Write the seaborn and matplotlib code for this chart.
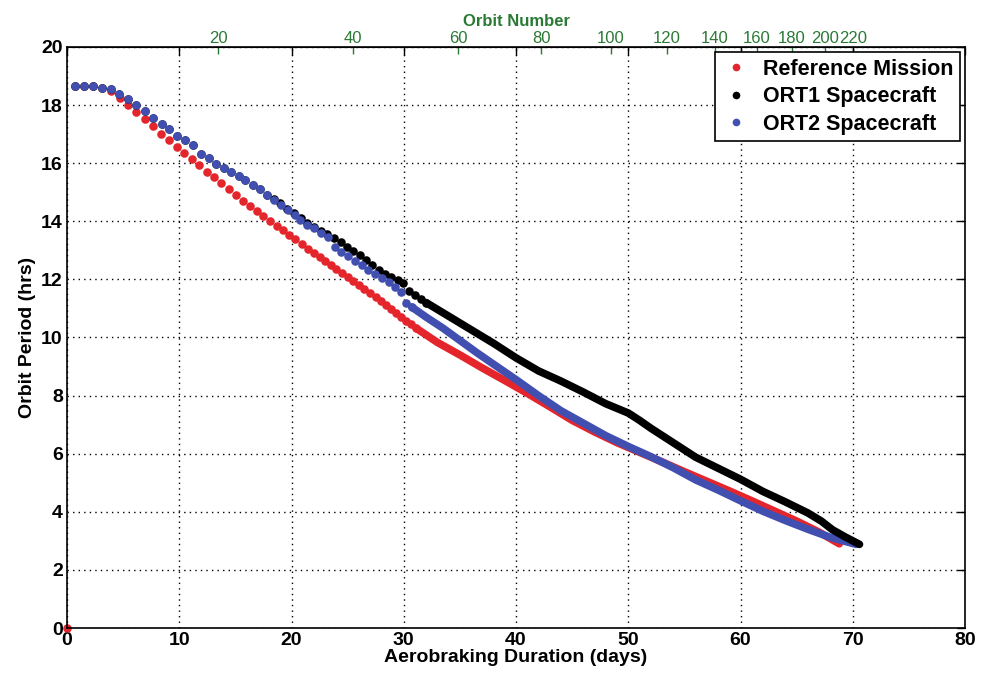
import pandas as pd
import numpy as np
import matplotlib.pyplot as plt
import seaborn as sns
from matplotlib.lines import Line2D

sns.set_style('white')
plt.rcParams['font.family'] = ['Liberation Sans', 'DejaVu Sans']
plt.rcParams['text.color'] = 'black'
plt.rcParams['axes.labelcolor'] = 'black'
plt.rcParams['xtick.color'] = 'black'
plt.rcParams['ytick.color'] = 'black'

# Reference Mission: single orbits (dots) and the dense part (orbits merge into a band)
ref_dot_day = [0.0, 0.71, 1.54, 2.35, 3.12, 3.89, 4.72, 5.43, 6.18, 6.92, 7.66, 8.37, 9.05, 9.77,
               10.45, 11.13, 11.79, 12.47, 13.12, 13.75, 14.40, 15.05, 15.68, 16.30, 16.90, 17.49,
               18.08, 18.67, 19.21, 19.80, 20.33, 20.93, 21.46, 22.0, 22.5, 23.0, 23.5, 24.0, 24.5,
               25.0, 25.5, 26.0, 26.5, 27.0, 27.5, 27.95, 28.4, 28.85, 29.3, 29.75, 30.2, 30.65, 31.1]
ref_dot_hr = [0.0, 18.66, 18.66, 18.66, 18.59, 18.50, 18.26, 18.01, 17.75, 17.51, 17.29, 17.02, 16.79,
              16.56, 16.35, 16.13, 15.93, 15.69, 15.51, 15.31, 15.12, 14.90, 14.71, 14.52, 14.35, 14.18,
              14.01, 13.84, 13.69, 13.53, 13.38, 13.22, 13.05, 12.90, 12.76, 12.62, 12.49, 12.35, 12.21,
              12.08, 11.94, 11.81, 11.66, 11.52, 11.38, 11.24, 11.11, 10.98, 10.85, 10.71, 10.58, 10.45,
              10.32]
ref_band_day = [31.1, 33.0, 35.0, 37.0, 39.0, 41.0, 43.0, 45.0, 47.0, 49.0, 51.0, 53.0, 55.0, 57.0,
                59.0, 61.0, 63.0, 65.0, 67.0, 68.8]
ref_band_hr = [10.32, 9.83, 9.40, 8.95, 8.52, 8.08, 7.62, 7.15, 6.75, 6.38, 6.05, 5.72, 5.38, 5.05,
               4.72, 4.38, 4.03, 3.68, 3.30, 2.90]

# ORT1 Spacecraft
ort1_dot_day = [0.71, 1.54, 2.35, 3.12, 3.89, 4.66, 5.43, 6.18, 6.95, 7.69, 8.43, 9.11, 9.83, 10.54,
                11.22, 11.93, 12.62, 13.27, 13.95, 14.63, 15.3, 15.9, 16.55, 17.19, 17.8, 18.42, 19.0,
                19.63, 20.22, 20.81, 21.4, 21.99, 22.59, 23.18, 23.78, 24.38, 24.95, 25.5, 26.1, 26.65,
                27.2, 27.8, 28.35, 28.9, 29.45, 29.95, 30.45, 31.0, 31.5, 32.0]
ort1_dot_hr = [18.66, 18.66, 18.66, 18.59, 18.55, 18.37, 18.20, 18.01, 17.80, 17.55, 17.35, 17.17,
               16.95, 16.80, 16.63, 16.31, 16.19, 15.98, 15.85, 15.71, 15.57, 15.42, 15.25, 15.10,
               14.92, 14.76, 14.62, 14.44, 14.27, 14.10, 13.95, 13.82, 13.68, 13.55, 13.42, 13.28,
               13.13, 12.98, 12.84, 12.68, 12.50, 12.32, 12.17, 12.07, 11.98, 11.88, 11.60, 11.45,
               11.32, 11.20]
ort1_band_day = [32.0, 33.5, 35.0, 36.5, 38.0, 40.0, 42.0, 44.0, 46.0, 48.0, 50.0, 51.0, 52.0, 54.0,
                 56.0, 58.0, 60.0, 62.0, 64.0, 66.0, 67.2, 68.2, 69.4, 70.6]
ort1_band_hr = [11.20, 10.85, 10.50, 10.15, 9.80, 9.30, 8.85, 8.50, 8.12, 7.72, 7.40, 7.15, 6.88, 6.38,
                5.88, 5.50, 5.12, 4.70, 4.34, 3.96, 3.68, 3.38, 3.12, 2.88]

# ORT2 Spacecraft
ort2_dot_day = [0.71, 1.54, 2.35, 3.12, 3.89, 4.66, 5.43, 6.18, 6.95, 7.69, 8.43, 9.11, 9.83, 10.54,
                11.22, 11.93, 12.62, 13.27, 13.95, 14.63, 15.3, 15.9, 16.55, 17.19, 17.8, 18.42, 19.05,
                19.66, 20.27, 20.8, 21.4, 21.99, 22.62, 23.24, 23.85, 24.45, 25.05, 25.65, 26.25, 26.85,
                27.45, 28.05, 28.65, 29.2, 29.75, 30.2, 30.7]
ort2_dot_hr = [18.66, 18.66, 18.66, 18.59, 18.55, 18.37, 18.20, 18.01, 17.80, 17.55, 17.35, 17.17,
               16.95, 16.80, 16.63, 16.31, 16.19, 15.98, 15.85, 15.71, 15.57, 15.42, 15.25, 15.10,
               14.92, 14.75, 14.56, 14.38, 14.21, 14.04, 13.88, 13.76, 13.61, 13.47, 13.12, 12.96,
               12.80, 12.64, 12.48, 12.33, 12.19, 12.05, 11.92, 11.75, 11.58, 11.20, 11.05]
ort2_band_day = [30.7, 32.0, 33.5, 35.0, 36.5, 38.0, 40.0, 42.0, 44.0, 46.0, 48.0, 50.0, 52.0, 54.0,
                 56.0, 58.0, 60.0, 62.0, 64.0, 66.0, 68.0, 70.3]
ort2_band_hr = [11.05, 10.70, 10.32, 9.90, 9.48, 9.08, 8.55, 8.00, 7.48, 7.05, 6.62, 6.25, 5.90, 5.52,
                5.10, 4.75, 4.38, 4.02, 3.70, 3.40, 3.12, 2.88]

# top axis: orbit number against days
orbit_tick_day = [13.45, 25.45, 34.83, 42.27, 48.46, 53.42, 57.73, 61.44, 64.56, 67.53, 70.02]
orbit_tick_labels = ['20', '40', '60', '80', '100', '120', '140', '160', '180', '200', '220']

red = '#e4262c'
blue = '#4150b0'
black = '#000000'
green = '#2a7a35'

fig = plt.figure(figsize=(9.81, 6.79), dpi=100)
ax = fig.add_axes([0.0683, 0.0751, 0.9154, 0.8557])

band_w = 5.5
dot_s = 38

sns.lineplot(x=ref_band_day, y=ref_band_hr, ax=ax, color=red, linewidth=band_w,
             sort=False, estimator=None, solid_capstyle='round')
sns.scatterplot(x=ref_dot_day, y=ref_dot_hr, ax=ax, color=red, s=dot_s, linewidth=0, clip_on=False)

sns.scatterplot(x=ort1_dot_day, y=ort1_dot_hr, ax=ax, color=black, s=dot_s, linewidth=0)

sns.lineplot(x=ort2_band_day, y=ort2_band_hr, ax=ax, color=blue, linewidth=band_w,
             sort=False, estimator=None, solid_capstyle='round')
sns.scatterplot(x=ort2_dot_day, y=ort2_dot_hr, ax=ax, color=blue, s=dot_s, linewidth=0)

sns.lineplot(x=ort1_band_day, y=ort1_band_hr, ax=ax, color=black, linewidth=band_w,
             sort=False, estimator=None, solid_capstyle='round')

ax.set_xlim(0, 80)
ax.set_ylim(0, 20)
ax.set_xticks(range(0, 81, 10))
ax.set_yticks(range(0, 21, 2))
ax.grid(True, linestyle=(0, (1, 3)), color='black', linewidth=1.0)
for sp in ax.spines.values():
    sp.set_color('black')
    sp.set_linewidth(1.2)
ax.tick_params(direction='in', length=6, width=1, top=True, right=True, labeltop=False,
               labelsize=14, pad=3, colors='black')
for lbl in ax.get_yticklabels():
    lbl.set_fontweight('bold')
for lbl in ax.get_xticklabels():
    lbl.set_fontweight('bold')

ax.set_xlabel('Aerobraking Duration (days)', fontsize=14, fontweight='bold', labelpad=0)
ax.set_ylabel('Orbit Period (hrs)', fontsize=14, fontweight='bold', labelpad=4)

secax = ax.secondary_xaxis('top')
secax.set_xticks(orbit_tick_day, labels=orbit_tick_labels)
secax.tick_params(direction='in', length=5, width=1, colors=green, labelsize=12, pad=1)
secax.spines['top'].set_color('black')
secax.set_xlabel('Orbit Number', color=green, fontsize=12, fontweight='bold', labelpad=3)

handles = [Line2D([], [], marker='o', linestyle='none', color=c, markersize=4.5)
           for c in [red, black, blue]]
leg = ax.legend(handles, ['Reference Mission', 'ORT1 Spacecraft', 'ORT2 Spacecraft'],
                loc='upper right', frameon=True, fancybox=False, framealpha=1,
                edgecolor='black', prop={'weight': 'bold', 'size': 15.5},
                borderaxespad=0.25, borderpad=0.3, labelspacing=0.3, handletextpad=0.6,
                handlelength=1.3)
leg.get_frame().set_linewidth(1.2)

fig.savefig('out.png', dpi=100)
